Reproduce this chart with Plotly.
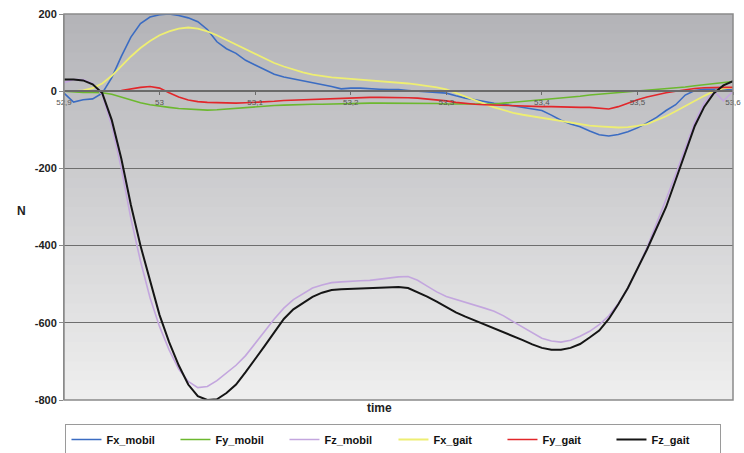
import plotly.graph_objects as go

time = [round(52.90 + 0.01 * i, 2) for i in range(71)]

fx_mobil = [-5, -28, -22, -20, -5, 35, 90, 140, 175, 192,
            198, 200, 196, 190, 180, 160, 128, 110, 98, 80,
            68, 55, 44, 37, 32, 27, 22, 18, 12, 6,
            8, 8, 6, 5, 4, 4, 2, 0, -2, -3,
            -5, -12, -18, -22, -27, -31, -34, -38, -42, -45,
            -50, -62, -75, -85, -92, -103, -113, -116, -112, -105,
            -95, -82, -68, -50, -35, -10, 2, 5, 5, 5, 3]

fy_mobil = [0, -2, -3, -3, -4, -8, -16, -24, -30, -35,
            -39, -42, -45, -46, -48, -49, -48, -46, -44, -42,
            -40, -38, -37, -36, -35, -35, -34, -34, -33, -33,
            -32, -32, -31, -31, -31, -31, -31, -31, -32, -32,
            -33, -33, -34, -34, -34, -33, -31, -29, -27, -25,
            -23, -21, -19, -16, -13, -10, -8, -5, -3, -1,
            1, 3, 5, 7, 9, 11, 14, 17, 20, 23, 25]

fz_mobil = [22, 30, 30, 20, -10, -90, -200, -330, -440, -535,
            -610, -670, -720, -752, -768, -765, -750, -730, -710, -685,
            -655, -622, -590, -562, -540, -524, -510, -502, -496, -494,
            -492, -491, -490, -487, -484, -481, -480, -490, -505, -520,
            -532, -540, -548, -555, -562, -570, -582, -597, -612, -627,
            -640, -647, -650, -645, -635, -622, -605, -582, -550, -510,
            -460, -405, -345, -280, -215, -145, -80, -30, 0, -25, 0]

fx_gait = [0, 0, 2, 8, 20, 40, 65, 90, 112, 130,
           145, 155, 162, 165, 162, 155, 145, 133, 120, 108,
           96, 84, 73, 64, 56, 49, 43, 39, 36, 34,
           32, 31, 29, 27, 25, 23, 20, 17, 14, 10,
           5, -5, -15, -24, -33, -42, -50, -56, -61, -65,
           -69, -74, -78, -82, -86, -89, -91, -93, -94, -93,
           -90, -85, -76, -65, -52, -38, -24, -12, 0, 7, 10]

fy_gait = [0, 0, 0, 0, 0, 0, 2, 6, 10, 12,
           8, -4, -15, -23, -27, -29, -30, -31, -31, -30,
           -29, -27, -26, -24, -23, -22, -21, -20, -19, -18,
           -17, -17, -16, -16, -16, -16, -17, -18, -20, -22,
           -25, -29, -32, -34, -35, -36, -37, -38, -39, -39,
           -40, -40, -41, -42, -42, -42, -44, -46, -40, -30,
           -22, -15, -9, -4, 0, 4, 7, 9, 10, 10, 10]

fz_gait = [30, 30, 28, 18, -5, -75, -175, -295, -400, -490,
           -580, -650, -710, -760, -790, -800, -798, -782, -760, -728,
           -695, -660, -625, -590, -565, -548, -533, -522, -515, -513,
           -512, -512, -511, -510, -509, -507, -510, -520, -532, -545,
           -560, -573, -584, -594, -603, -613, -623, -633, -645, -656,
           -665, -670, -670, -665, -655, -638, -620, -590, -552, -510,
           -462, -410, -355, -300, -230, -160, -90, -40, -5, 15, 26]

x_ticks = [52.9, 53.0, 53.1, 53.2, 53.3, 53.4, 53.5, 53.6]
x_tick_labels = ["52,9", "53", "53,1", "53,2", "53,3", "53,4", "53,5", "53,6"]
y_ticks = [-800, -600, -400, -200, 0, 200]
y_tick_labels = ["-800", "-600", "-400", "-200", "0", "200"]

series = [
    ("Fx_mobil", fx_mobil, "#3b6cc2", 1.6),
    ("Fy_mobil", fy_mobil, "#6cb82e", 1.6),
    ("Fz_mobil", fz_mobil, "#c3a6de", 1.6),
    ("Fx_gait", fx_gait, "#eeee72", 1.8),
    ("Fy_gait", fy_gait, "#e2262a", 1.6),
    ("Fz_gait", fz_gait, "#151515", 2.0),
]

fig = go.Figure()
for name, vals, color, w in series:
    fig.add_trace(go.Scatter(x=time, y=vals, mode="lines", name=name,
                             line=dict(color=color, width=w)))

# gradient background bands
shapes = []
n = 40
top = (0xb4, 0xb4, 0xb8)
bot = (0xee, 0xee, 0xee)
for i in range(n):
    f = i / (n - 1)
    c = tuple(int(round(top[k] + (bot[k] - top[k]) * f)) for k in range(3))
    shapes.append(dict(type="rect", xref="paper", yref="paper",
                       x0=0, x1=1, y0=max(0, 1 - (i + 1) / n - 0.004), y1=1 - i / n,
                       fillcolor="rgb(%d,%d,%d)" % c, line=dict(width=0),
                       layer="below"))
shapes.append(dict(type="rect", xref="paper", yref="paper", x0=0, x1=1, y0=0, y1=1,
                   line=dict(color="#8a8a8a", width=1.5), layer="above",
                   fillcolor="rgba(0,0,0,0)"))

font = "Liberation Sans, Arial, sans-serif"
fig.update_layout(
    width=744, height=453, autosize=False,
    margin=dict(l=64, r=11, t=14, b=53, autoexpand=False),
    paper_bgcolor="white", plot_bgcolor="rgba(0,0,0,0)",
    shapes=shapes,
    font=dict(family=font),
    showlegend=True,
    legend=dict(orientation="h", xref="container", yref="container",
                x=0.088, y=0.064, xanchor="left", yanchor="top",
                entrywidth=64, entrywidthmode="pixels",
                bordercolor="#9a9a9a", borderwidth=1, bgcolor="white",
                font=dict(family=font, size=11, color="#111", weight="bold"),
                tracegroupgap=0, itemwidth=30),
    xaxis=dict(range=[52.9, 53.6], tickvals=x_ticks, ticktext=x_tick_labels,
               anchor="free", position=0.8, showgrid=False, zeroline=False,
               showline=True, linecolor="#6a6a6a", linewidth=2, automargin=False,
               ticks="outside", ticklen=3, tickcolor="#6a6a6a",
               tickfont=dict(size=8, color="#555"), fixedrange=True),
    yaxis=dict(range=[-800, 200], tickvals=y_ticks, ticktext=y_tick_labels,
               showgrid=True, gridcolor="#6e6e6e", gridwidth=1.3, zeroline=False,
               showline=True, linecolor="#8a8a8a", linewidth=1, automargin=False,
               ticks="outside", ticklen=4, tickcolor="#8a8a8a", fixedrange=True,
               tickfont=dict(size=11, color="#222", family=font, weight="bold")),
    annotations=[
        dict(text="<b>N</b>", xref="paper", yref="paper", x=-0.073, y=0.49,
             showarrow=False, font=dict(size=12, color="#222", family=font)),
        dict(text="<b>time</b>", xref="paper", yref="paper", x=0.472, y=-0.022,
             showarrow=False, yanchor="middle", font=dict(size=12, color="#222", family=font)),
    ],
)

fig.write_html("out.html", config={"displayModeBar": False},
               post_script="document.body.style.margin='0';document.body.style.overflow='hidden';")
